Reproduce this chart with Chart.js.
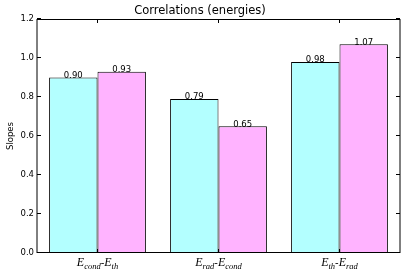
<!DOCTYPE html>
<html>
<head>
<meta charset="utf-8">
<script src="https://cdn.jsdelivr.net/npm/chart.js@4.4.0/dist/chart.umd.min.js"></script>
<style>
  body { margin: 0; background: #fff; }
  #c { display: block; }
</style>
</head>
<body>
<canvas id="c" width="407" height="274" style="width:407px;height:274px"></canvas>
<script>
// categories written as "E_sub-E_sub", split into math text when drawn
let categories = ['E_cond-E_th', 'E_rad-E_cond', 'E_th-E_rad'];
let slopesCyan = [0.90, 0.79, 0.98];
let slopesPink = [0.93, 0.65, 1.07];
let yMin = 0;
let yMax = 1.2;
let yStep = 0.2;

let sansFont = 'DejaVu Sans';

// draws the frame, inward ticks, bar values and the math style category labels
let framePlugin = {
  id: 'framePlugin',
  afterDraw(chart) {
    let ctx = chart.ctx;
    let area = chart.chartArea;
    let xs = chart.scales.x;
    let ys = chart.scales.y;
    ctx.save();

    // bar values
    ctx.fillStyle = '#000';
    ctx.font = `8.5px "${sansFont}"`;
    ctx.textAlign = 'center';
    ctx.textBaseline = 'alphabetic';
    for(d = 0; d < chart.data.datasets.length; d++) {
      let meta = chart.getDatasetMeta(d);
      for(i = 0; i < meta.data.length; i++) {
        let el = meta.data[i];
        ctx.fillText(chart.data.datasets[d].data[i].toFixed(2), el.x, el.y + 0.5);
      }
    }

    // frame
    ctx.strokeStyle = '#000';
    ctx.lineWidth = 1;
    ctx.beginPath();
    ctx.moveTo(area.left, area.top + 0.5);
    ctx.lineTo(area.right, area.top + 0.5);
    ctx.moveTo(area.left, area.bottom - 0.5);
    ctx.lineTo(area.right, area.bottom - 0.5);
    ctx.moveTo(area.left, area.top);
    ctx.lineTo(area.left, area.bottom);
    ctx.moveTo(area.right, area.top);
    ctx.lineTo(area.right, area.bottom);
    ctx.stroke();

    // inward ticks
    ctx.beginPath();
    for(v = yMin; v <= yMax + 1e-9; v += yStep) {
      let py = Math.round(ys.getPixelForValue(v)) - 0.5;
      ctx.moveTo(area.left, py);
      ctx.lineTo(area.left + 4, py);
      ctx.moveTo(area.right, py);
      ctx.lineTo(area.right - 4, py);
    }
    for(i = 0; i < categories.length; i++) {
      let px = xs.getPixelForValue(i);
      ctx.moveTo(px, area.top);
      ctx.lineTo(px, area.top + 4);
      ctx.moveTo(px, area.bottom);
      ctx.lineTo(px, area.bottom - 4);
    }
    ctx.stroke();

    // category labels like E_cond - E_th
    ctx.textAlign = 'left';
    let bigFont = 'italic 12px "Liberation Serif"';
    let subFont = 'italic 8.5px "Liberation Serif"';
    let dashFont = `10px "${sansFont}"`;
    let baseY = 266;
    for(i = 0; i < categories.length; i++) {
      let parts = categories[i].split('-');
      let pieces = [];
      for(p = 0; p < parts.length; p++) {
        let bits = parts[p].split('_');
        pieces.push({ t: bits[0], f: bigFont, dy: 0 });
        if(bits[1] !== undefined) {
          pieces.push({ t: bits[1], f: subFont, dy: 2.5 });
        }
        if(p < parts.length - 1) {
          pieces.push({ t: '-', f: dashFont, dy: 0 });
        }
      }
      let total = 0;
      for(k = 0; k < pieces.length; k++) {
        ctx.font = pieces[k].f;
        pieces[k].w = ctx.measureText(pieces[k].t).width;
        total = total + pieces[k].w;
      }
      let cx = xs.getPixelForValue(i) - total / 2;
      for(k = 0; k < pieces.length; k++) {
        ctx.font = pieces[k].f;
        ctx.fillText(pieces[k].t, cx, baseY + pieces[k].dy);
        cx = cx + pieces[k].w;
      }
    }
    ctx.restore();
  }
};

let chartData = {
  labels: categories,
  datasets: [
    {
      label: 'cyan',
      data: slopesCyan,
      backgroundColor: '#b3ffff',
      borderColor: '#000',
      borderWidth: 1,
      borderSkipped: 'bottom',
      categoryPercentage: 0.8,
      barPercentage: 1.0,
    },
    {
      label: 'pink',
      data: slopesPink,
      backgroundColor: '#ffb3ff',
      borderColor: '#000',
      borderWidth: 1,
      borderSkipped: 'bottom',
      categoryPercentage: 0.8,
      barPercentage: 1.0,
    },
  ],
};

let chartConfig = {
  type: 'bar',
  data: chartData,
  options: {
    responsive: false,
    animation: false,
    layout: { padding: { left: 0, right: 7, top: 0, bottom: 0 } },
    plugins: {
      legend: { display: false },
      tooltip: { enabled: false },
      title: {
        display: true,
        text: 'Correlations (energies)',
        color: '#000',
        font: { family: sansFont, size: 11.5, weight: 'normal' },
        padding: { top: 4, bottom: 1.2 },
      },
    },
    scales: {
      x: {
        type: 'category',
        offset: true,
        grid: { display: false, drawTicks: false },
        border: { display: false },
        ticks: { display: false },
        afterFit(scale) { scale.height = 21; },
      },
      y: {
        min: yMin,
        max: yMax,
        grid: { display: false, drawTicks: false },
        border: { display: false },
        ticks: {
          stepSize: yStep,
          color: '#000',
          padding: 3,
          font: { family: sansFont, size: 8.5 },
          callback: function(v) { return v.toFixed(1); },
        },
        title: {
          display: true,
          text: 'Slopes',
          color: '#000',
          font: { family: sansFont, size: 8.5 },
          padding: { top: 6, bottom: 0 },
        },
        afterFit(scale) { scale.width = 37; },
      },
    },
  },
  plugins: [framePlugin],
};

new Chart(document.getElementById('c'), chartConfig);
</script>
</body>
</html>
